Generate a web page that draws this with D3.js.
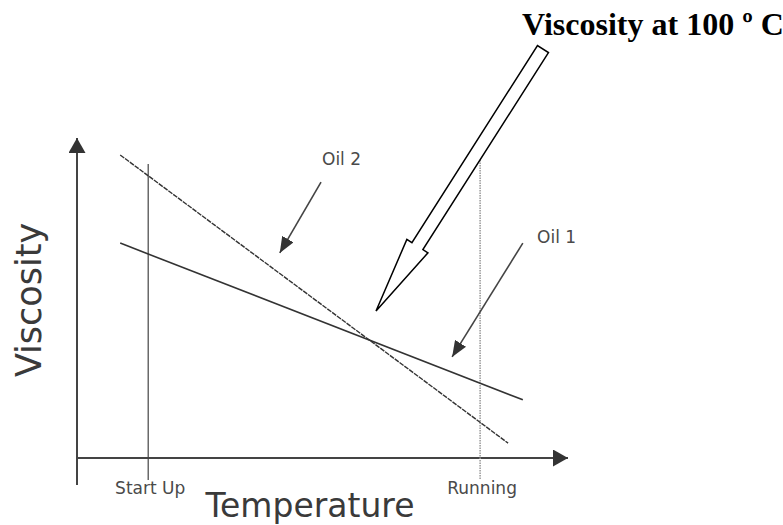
<!DOCTYPE html>
<html>
<head>
<meta charset="utf-8">
<script src="https://cdn.jsdelivr.net/npm/d3@7"></script>
<style>
    html, body { margin: 0; padding: 0; background: #fff; }
    svg { display: block; }
</style>
</head>
<body>
<svg id="chart" width="783" height="525"></svg>
<script>
// values in arbitrary units (temperature 0-100, viscosity 0-100)
const oil1 = [{t: 8.8, v: 68.0}, {t: 90.8, v: 18.4}];
const oil2 = [{t: 8.8, v: 95.9}, {t: 87.8, v: 4.7}];
const conditions = [
    {label: "Start Up", t: 14.5, top: 93.0, dotted: false},
    {label: "Running", t: 82.1, top: 94.3, dotted: true}
];
const oilLabels = [
    {label: "Oil 2", t: 49.9, v: 92.7, from: {t: 49.7, v: 87.3}, to: {t: 41.3, v: 64.9}},
    {label: "Oil 1", t: 93.7, v: 68.0, from: {t: 90.8, v: 68.0}, to: {t: 76.4, v: 32.0}}
];
// the hollow arrow pointing at the crossing point
const callout = {label: "Viscosity at 100 º C", from: {t: 94.9, v: 129.4}, to: {t: 60.9, v: 46.5}};

var svg = d3.select("#chart");
var x = d3.scaleLinear().domain([0, 100]).range([77, 568]);
var y = d3.scaleLinear().domain([0, 100]).range([458, 142]);

var defs = svg.append("defs");
defs.append("marker")
    .attr("id", "tri")
    .attr("viewBox", "0 0 16 13")
    .attr("refX", 16).attr("refY", 6.5)
    .attr("markerWidth", 16).attr("markerHeight", 13)
    .attr("markerUnits", "userSpaceOnUse")
    .attr("orient", "auto")
    .append("path")
    .attr("d", "M0,0 L16,6.5 L0,13 Z")
    .attr("fill", "#333");
defs.append("marker")
    .attr("id", "axisTri")
    .attr("viewBox", "0 0 15 17")
    .attr("refX", 15).attr("refY", 8.5)
    .attr("markerWidth", 15).attr("markerHeight", 17)
    .attr("markerUnits", "userSpaceOnUse")
    .attr("orient", "auto")
    .append("path")
    .attr("d", "M0,0 L15,8.5 L0,17 Z")
    .attr("fill", "#333");

// axes (no ticks, just arrows)
svg.append("line")
    .attr("x1", x(0)).attr("y1", y(0) + 27)
    .attr("x2", x(0)).attr("y2", y(100) - 4)
    .attr("stroke", "#444").attr("stroke-width", 2)
    .attr("marker-end", "url(#axisTri)");
svg.append("line")
    .attr("x1", x(0)).attr("y1", y(0))
    .attr("x2", x(100)).attr("y2", y(0))
    .attr("stroke", "#444").attr("stroke-width", 2)
    .attr("marker-end", "url(#axisTri)");

// start up / running markers
svg.selectAll(".cond")
    .data(conditions)
    .enter().append("line")
    .attr("class", "cond")
    .attr("x1", d => x(d.t)).attr("x2", d => x(d.t))
    .attr("y1", d => y(d.top)).attr("y2", y(0) + 22)
    .attr("stroke", d => d.dotted ? "#999" : "#444")
    .attr("stroke-width", d => d.dotted ? 1.5 : 1.2)
    .attr("stroke-dasharray", d => d.dotted ? "1.5,1" : null);

svg.selectAll(".condLabel")
    .data(conditions)
    .enter().append("text")
    .attr("class", "condLabel")
    .attr("x", d => x(d.t) + 2)
    .attr("y", y(0) + 36)
    .attr("text-anchor", "middle")
    .attr("font-family", "DejaVu Sans")
    .attr("font-size", 17)
    .attr("fill", "#4a4a4a")
    .text(d => d.label);

// oil lines
var line = d3.line().x(d => x(d.t)).y(d => y(d.v));
svg.append("path")
    .datum(oil1)
    .attr("d", line)
    .attr("fill", "none")
    .attr("stroke", "#333")
    .attr("stroke-width", 1.6);
svg.append("path")
    .datum(oil2)
    .attr("d", line)
    .attr("fill", "none")
    .attr("stroke", "#333")
    .attr("stroke-width", 1.4)
    .attr("stroke-dasharray", "5,1");

// oil labels with pointers
svg.selectAll(".oilPtr")
    .data(oilLabels)
    .enter().append("line")
    .attr("class", "oilPtr")
    .attr("x1", d => x(d.from.t)).attr("y1", d => y(d.from.v))
    .attr("x2", d => x(d.to.t)).attr("y2", d => y(d.to.v))
    .attr("stroke", "#444").attr("stroke-width", 1.6)
    .attr("marker-end", "url(#tri)");
svg.selectAll(".oilLabel")
    .data(oilLabels)
    .enter().append("text")
    .attr("class", "oilLabel")
    .attr("x", d => x(d.t))
    .attr("y", d => y(d.v))
    .attr("font-family", "DejaVu Sans")
    .attr("font-size", 17)
    .attr("fill", "#4a4a4a")
    .text(d => d.label);

// hollow callout arrow
var x0 = x(callout.from.t), y0 = y(callout.from.v);
var x1 = x(callout.to.t), y1 = y(callout.to.v);
var len = Math.hypot(x1 - x0, y1 - y0);
var ang = Math.atan2(y1 - y0, x1 - x0) * 180 / Math.PI;
var sw = 6.5, hw = 12.5, hl = 77;
var shape = [[0, -sw], [len - hl, -sw], [len - hl, -hw], [len, 0], [len - hl, hw], [len - hl, sw], [0, sw]];
svg.append("path")
    .attr("d", d3.line()(shape) + "Z")
    .attr("transform", "translate(" + x0 + "," + y0 + ") rotate(" + ang + ")")
    .attr("fill", "#fff")
    .attr("stroke", "#000")
    .attr("stroke-width", 1.5)
    .attr("stroke-linejoin", "miter");

svg.append("text")
    .attr("x", 522)
    .attr("y", 35)
    .attr("font-family", "Liberation Serif")
    .attr("font-weight", "bold")
    .attr("font-size", 32)
    .attr("fill", "#000")
    .text(callout.label);

// axis titles
svg.append("text")
    .attr("x", 310)
    .attr("y", 517)
    .attr("text-anchor", "middle")
    .attr("font-family", "DejaVu Sans")
    .attr("font-size", 33)
    .attr("fill", "#3a3a3a")
    .text("Temperature");
svg.append("text")
    .attr("transform", "translate(41,300) rotate(-90)")
    .attr("text-anchor", "middle")
    .attr("font-family", "DejaVu Sans")
    .attr("font-size", 35)
    .attr("fill", "#3a3a3a")
    .text("Viscosity");
</script>
</body>
</html>
